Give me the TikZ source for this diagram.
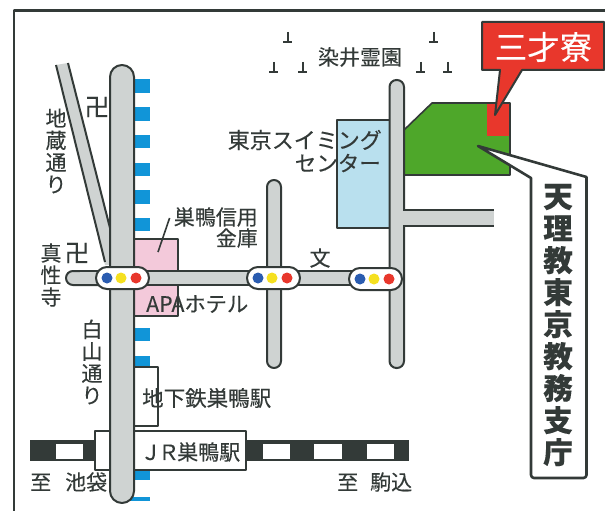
\documentclass[tikz,border=0pt]{standalone}
\usepackage{fontspec}
\newfontfamily\jp[FakeBold=0.25]{Noto Sans CJK JP}
\definecolor{ink}{HTML}{333A38}
\definecolor{roadgrey}{HTML}{CFD3D2}
\definecolor{dashblue}{HTML}{1195D8}
\definecolor{paleblue}{HTML}{B9E0EE}
\definecolor{palepink}{HTML}{F3C9DA}
\definecolor{parkgreen}{HTML}{4EA72A}
\definecolor{mapred}{HTML}{E8372C}
\definecolor{sigblue}{HTML}{2A5CB0}
\definecolor{sigyellow}{HTML}{F5E020}
\tikzset{
  road/.style={draw=ink,line width=2pt,fill=roadgrey},
  plate/.style={draw=ink,line width=1.8pt,fill=white},
  dashmark/.style={fill=dashblue,draw=none},
  label/.style={inner sep=0pt,text=ink,font=\jp\fontsize{21}{21}\selectfont},
  vlabel/.style={inner sep=0pt,text=ink,align=center,font=\jp\fontsize{21}{22}\selectfont},
  capsule/.style={draw=ink,line width=2pt,fill=white,rounded corners=11pt},
  lamp/.style={circle,inner sep=0pt,minimum size=11pt,draw=none}
}
\newcommand{\gravemark}[2]{\draw[ink,line width=1.4pt] (#1,#2) -- (#1,#2+10) (#1-5,#2+10) -- (#1+4,#2+10);}
\newcommand{\signal}[4]{%
  \draw[capsule] (#1,#2-11) rectangle (#1+53,#2+11);
  \node[lamp,fill=sigblue] (#4b) at (#1+11,#2) {};
  \node[lamp,fill=sigyellow] (#4y) at (#1+25,#2) {};
  \node[lamp,fill=mapred] (#4r) at (#1+40,#2) {};}
\begin{document}
\begin{tikzpicture}[x=1pt,y=-1pt,line join=round]
\useasboundingbox (0,0) rectangle (605,511);
\fill[white] (0,0) rectangle (605,511);
% frame
\draw[ink,line width=2.2pt] (14,511) -- (14,10.5) -- (605,10.5);
% blue dashes
\foreach \a/\b in {79/93,107/121,135/148,163/176,190/204,218/231,328/341,356/368,470/480,497/501}
  \fill[dashmark] (130,\a) rectangle (150,\b);
% pink block
\draw[ink,line width=1.8pt,fill=palepink] (134,239) -- (178,239) -- (178,316) -- (134,316);
% green site
\draw[ink,line width=1.6pt,fill=parkgreen] (404,130) -- (432,103) -- (510,103) -- (510,175) -- (404,175) -- cycle;
\fill[mapred] (487,104) rectangle (509,136);
% pool
\draw[ink,line width=1.6pt,fill=paleblue] (337,120) rectangle (390,228);
% diagonal road
\fill[roadgrey] (56,65) -- (68,63) -- (112,232) -- (112,265) -- (105,265) -- cycle;
\draw[ink,line width=2pt] (56,65) -- (105,262) (68,63) -- (111,232);
% horizontal road
\draw[road,rounded corners=7pt] (66,271) rectangle (110,285);
\fill[roadgrey] (80,272) rectangle (400,284);
\draw[ink,line width=2pt] (80,271) -- (400,271) (80,285) -- (400,285);
% side roads
\draw[road,rounded corners=7pt] (267,180) rectangle (281,368);
\draw[road,rounded corners=7pt] (389.500,80) rectangle (404,368);
\fill[roadgrey] (402,211) rectangle (494,225);
\draw[ink,line width=2pt] (403,210) -- (494,210) (403,226) -- (494,226);
% railway
\fill[ink] (30,440) rectangle (409,461);
\foreach \a/\b in {56/83,263/290,314/342,367/394}
  \fill[white] (\a,443.500) rectangle (\b,459);
% station plates
\draw[plate] (95,431) rectangle (246,470);
\draw[plate] (134,367) -- (158,367) -- (158,426) -- (134,426);
% main road
\draw[road,rounded corners=12pt] (110,65) rectangle (134,503);
% signals
\signal{96}{278}{}{sa}
\signal{247}{278}{}{sb}
\signal{349}{279}{}{sc}
% red callout
\draw[ink,line width=2pt,fill=mapred] (482,22) -- (604,22) -- (604,70) -- (522,70) -- (495,115) -- (500,70) -- (482,70) -- cycle;
\node[inner sep=0pt,text=white,font=\jp\fontsize{32.500}{33}\selectfont] (ryo) at (543.500,47) {三才寮};
% white callout
\draw[ink,line width=2.6pt,fill=white] (478,146) -- (531,178) [rounded corners=3pt] -- (531,478) -- (586.500,478) [sharp corners] -- (586.500,177) -- cycle;
\node[inner sep=0pt,text=ink,align=center,font=\jp\bfseries\fontsize{29.500}{32}\selectfont] (shicho) at (558,325) {天\\理\\教\\東\\京\\教\\務\\支\\庁};
% grave marks
\gravemark{288}{32}
\gravemark{274}{62}
\gravemark{303}{62}
\gravemark{434}{32}
\gravemark{421}{62}
\gravemark{448}{62}
% labels
\node[label] (reien) at (360,57) {染井霊園};
\node[label,anchor=east] (swim) at (382,140) {\fontsize{22}{22}\selectfont 東京スイミング};
\node[label,anchor=east] (center) at (381,163) {\fontsize{21.500}{22}\selectfont センター};
\node[vlabel] (jizo) at (56,151) {地\\蔵\\通\\り};
\node[label] (manji1) at (97,107) {\fontsize{25}{25}\selectfont 卍};
\node[label] (manji2) at (77,253) {\fontsize{25}{25}\selectfont 卍};
\node[vlabel] (shin) at (51,275) {真\\性\\寺};
\node[vlabel] (hakusan) at (92,362) {白\\山\\通\\り};
\node[label,anchor=east] (shinkin) at (258,217) {巣鴨信用};
\node[label,anchor=east] (kinko) at (258,238) {金庫};
\coordinate (leader) at (158,252);
\draw[ink,line width=1.6pt] (shinkin.west) ++(-4,1) -- (leader);
\node[label,anchor=west] (apa) at (146,304) {\fontsize{21.300}{22}\selectfont APAホテル};
\node[label] (bun) at (320,258) {文};
\node[label,anchor=west] (chika) at (142,398) {\fontsize{21.500}{22}\selectfont 地下鉄巣鴨駅};
\node[label,anchor=west] (jr) at (140,452) {Ｊ\hspace{-3pt}Ｒ\hspace{-2pt}\fontsize{21}{22}\selectfont 巣鴨駅};
\node[label,anchor=west] (ike) at (30,482) {至\hspace{14pt}池袋};
\node[label,anchor=west] (koma) at (337,482) {至\hspace{12pt}駒込};
\end{tikzpicture}
\end{document}
